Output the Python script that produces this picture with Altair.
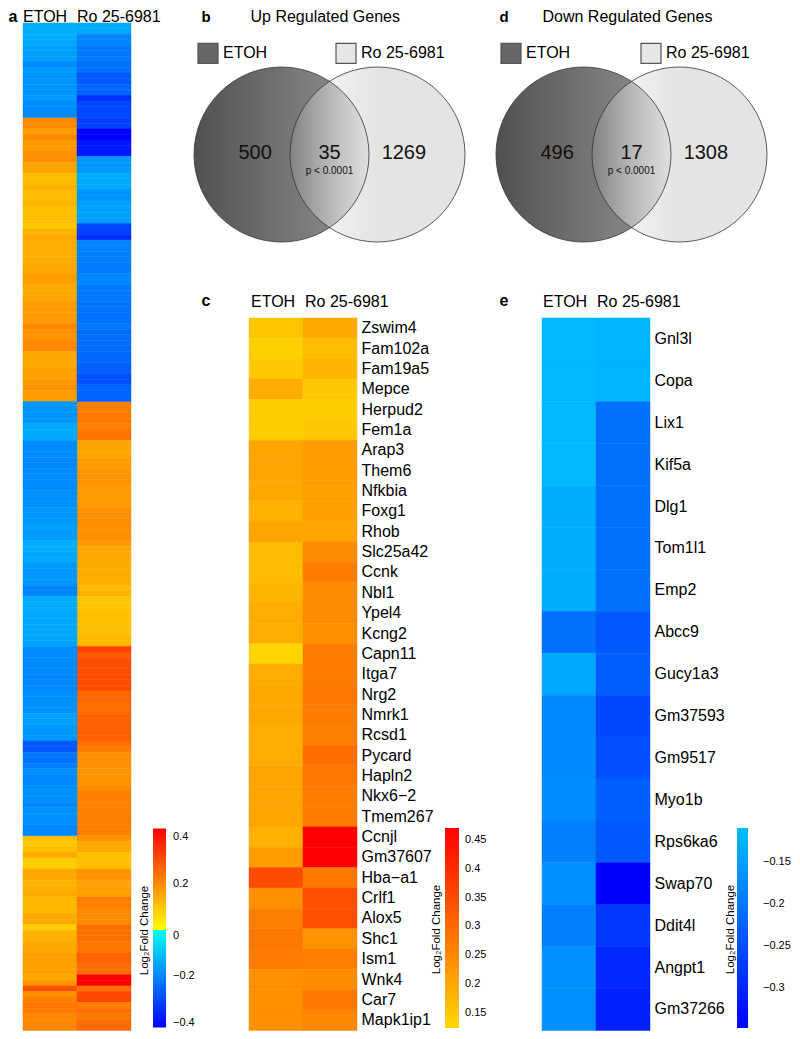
import altair as alt
import pandas as pd

FONT = "Liberation Sans"
CONDITIONS = ["ETOH", "Ro 25-6981"]
LEGEND_TITLE = "Log\u2082Fold Change"

# ---------------- panel a : 181 genes x 2 conditions (log2 fold change) ----------------
a_etoh = [
    -0.133, -0.133, -0.133, -0.143, -0.156, -0.156, -0.156, -0.196, -0.163, -0.176,
    -0.176, -0.176, -0.176, -0.163, -0.189, -0.189, -0.189,
    0.204, 0.204, 0.163, 0.204, 0.173, 0.173, 0.191, 0.191, 0.155, 0.155,
    0.115, 0.115, 0.136, 0.115, 0.115, 0.129, 0.108, 0.108, 0.108, 0.094,
    0.129, 0.149, 0.143, 0.143, 0.143, 0.143, 0.149, 0.149, 0.170, 0.163,
    0.149, 0.149, 0.149, 0.170, 0.170, 0.170, 0.170, 0.204, 0.184, 0.184,
    0.204, 0.204, 0.149, 0.149, 0.149, 0.163, 0.163, 0.177, 0.191, 0.170,
    0.170,
    -0.170, -0.170, -0.176, -0.170, -0.140, -0.140, -0.140, -0.189, -0.189, -0.189,
    -0.196, -0.196, -0.189, -0.189, -0.189, -0.189, -0.183, -0.183, -0.183, -0.170,
    -0.170, -0.170, -0.156, -0.163, -0.163, -0.130, -0.130, -0.143, -0.143, -0.170,
    -0.170, -0.170, -0.170, -0.203, -0.203, -0.137, -0.137, -0.137, -0.143, -0.143,
    -0.143, -0.143, -0.150, -0.150, -0.189, -0.189, -0.189, -0.189, -0.196, -0.196,
    -0.196, -0.196, -0.183, -0.183, -0.183, -0.183, -0.156, -0.156, -0.170, -0.170,
    -0.170, -0.275, -0.275, -0.222, -0.236, -0.209, -0.183, -0.196, -0.196, -0.183,
    -0.183, -0.183, -0.203, -0.183, -0.183, -0.183, -0.196, -0.196,
    0.108, 0.094, 0.108, 0.149, 0.088, 0.088, 0.149, 0.149, 0.136, 0.136,
    0.149, 0.122, 0.122, 0.122, 0.149, 0.149, 0.081, 0.136, 0.136, 0.149,
    0.149, 0.163, 0.163, 0.163, 0.163, 0.149, 0.184, 0.301, 0.191, 0.218,
    0.232, 0.232, 0.204, 0.204, 0.204,
]
a_ro = [
    -0.140, -0.140, -0.203, -0.203, -0.222, -0.222, -0.222, -0.236, -0.236, -0.275,
    -0.275, -0.249, -0.249, -0.341, -0.301, -0.301, -0.301,
    -0.315, -0.315, -0.420, -0.420, -0.380, -0.380, -0.380, -0.170, -0.170, -0.170,
    -0.140, -0.140, -0.140, -0.176, -0.176, -0.156, -0.156, -0.156, -0.156, -0.301,
    -0.315, -0.341, -0.203, -0.203, -0.209, -0.209, -0.216, -0.216, -0.196, -0.196,
    -0.222, -0.222, -0.222, -0.229, -0.229, -0.236, -0.236, -0.222, -0.242, -0.242,
    -0.242, -0.242, -0.249, -0.249, -0.262, -0.262, -0.288, -0.288, -0.255, -0.255,
    -0.255,
    0.218, 0.218, 0.232, 0.232, 0.218, 0.239, 0.239, 0.155, 0.155, 0.155,
    0.170, 0.170, 0.184, 0.184, 0.184, 0.170, 0.170, 0.170, 0.170, 0.191,
    0.191, 0.191, 0.191, 0.191, 0.191, 0.177, 0.149, 0.149, 0.149, 0.143,
    0.143, 0.143, 0.143, 0.115, 0.136, 0.101, 0.101, 0.101, 0.108, 0.108,
    0.108, 0.108, 0.122, 0.122, 0.328, 0.287, 0.301, 0.301, 0.307, 0.307,
    0.307, 0.307, 0.259, 0.259, 0.252, 0.252, 0.273, 0.273, 0.273, 0.273,
    0.273, 0.246, 0.225, 0.191, 0.191, 0.191, 0.184, 0.184, 0.184, 0.198,
    0.218, 0.218, 0.218, 0.218, 0.218, 0.218, 0.218, 0.218,
    0.184, 0.149, 0.149, 0.108, 0.108, 0.108, 0.184, 0.184, 0.163, 0.163,
    0.163, 0.218, 0.218, 0.204, 0.198, 0.198, 0.246, 0.246, 0.246, 0.232,
    0.232, 0.266, 0.266, 0.252, 0.252, 0.438, 0.438, 0.246, 0.314, 0.314,
    0.218, 0.246, 0.232, 0.252, 0.252,
]
a_pos_ticks = [0.2, 0.4]
a_neg_ticks = [-0.4, -0.2, 0]

# ---------------- panels b / d : Venn counts ----------------
venn_sets = ["ETOH", "Ro 25-6981"]
up_counts = [500, 35, 1269]
down_counts = [496, 17, 1308]
p_text = "p < 0.0001"

# ---------------- panel c : 35 up-regulated genes ----------------
c_genes = ["Zswim4", "Fam102a", "Fam19a5", "Mepce", "Herpud2", "Fem1a", "Arap3", "Them6",
           "Nfkbia", "Foxg1", "Rhob", "Slc25a42", "Ccnk", "Nbl1", "Ypel4", "Kcng2", "Capn11",
           "Itga7", "Nrg2", "Nmrk1", "Rcsd1", "Pycard", "Hapln2", "Nkx6\u22122", "Tmem267",
           "Ccnjl", "Gm37607", "Hba\u2212a1", "Crlf1", "Alox5", "Shc1", "Ism1", "Wnk4", "Car7",
           "Mapk1ip1"]
c_etoh = [0.154, 0.134, 0.147, 0.193, 0.141, 0.141, 0.206, 0.206, 0.199, 0.186, 0.206,
          0.167, 0.167, 0.180, 0.193, 0.193, 0.128, 0.193, 0.199, 0.199, 0.193, 0.193,
          0.206, 0.206, 0.206, 0.186, 0.219, 0.349, 0.238, 0.264, 0.277, 0.271, 0.238,
          0.238, 0.238]
c_ro = [0.199, 0.167, 0.180, 0.147, 0.141, 0.147, 0.219, 0.219, 0.212, 0.212, 0.206,
        0.245, 0.271, 0.245, 0.245, 0.238, 0.271, 0.271, 0.277, 0.271, 0.264, 0.297,
        0.277, 0.271, 0.271, 0.472, 0.472, 0.277, 0.342, 0.342, 0.232, 0.264, 0.245,
        0.277, 0.251]
c_ticks = [0.15, 0.2, 0.25, 0.3, 0.35, 0.4, 0.45]

# ---------------- panel e : 17 down-regulated genes ----------------
e_genes = ["Gnl3l", "Copa", "Lix1", "Kif5a", "Dlg1", "Tom1l1", "Emp2", "Abcc9", "Gucy1a3",
           "Gm37593", "Gm9517", "Myo1b", "Rps6ka6", "Swap70", "Ddit4l", "Angpt1", "Gm37266"]
e_etoh = [-0.119, -0.119, -0.119, -0.119, -0.134, -0.134, -0.134, -0.208, -0.139, -0.179,
          -0.179, -0.174, -0.188, -0.169, -0.188, -0.169, -0.169]
e_ro = [-0.124, -0.124, -0.208, -0.208, -0.208, -0.208, -0.208, -0.238, -0.228, -0.258,
        -0.248, -0.228, -0.238, -0.348, -0.278, -0.298, -0.308]
e_ticks = [-0.3, -0.25, -0.2, -0.15]

# ---------------- colour scales ----------------
A_POS = ([0.0, 0.438], ["#ffff00", "#ff0000"])
A_NEG = ([-0.42, 0.0], ["#0000ff", "#00ffff"])
C_SC = ([0.123, 0.4715], ["#ffd700", "#ff0000"])
E_SC = ([-0.348, -0.11], ["#0000ff", "#00bfff"])


def cscale(sc):
    return alt.Scale(domain=sc[0], range=sc[1], interpolate="rgb", clamp=True, nice=False, zero=False)


def sscale(sc):
    # same colours for the thin cell outline that hides anti-aliasing seams
    return alt.Scale(domain=[sc[0][0], sc[0][1] + 1e-7], range=sc[1], interpolate="rgb",
                     clamp=True, nice=False, zero=False)


# ---------------- layout ----------------
ROW_H = 5.566
N_TOP = 53                       # rows of panel a drawn beside panels b / d
A_W, C_W = 108, 108
TOP_H = round(N_TOP * ROW_H, 3)
BOT_H = round((len(a_etoh) - N_TOP) * ROW_H, 3)
COL2_W = 175
TITLE_Y = -7
R_PX = 87.5
VENN_SEP = 48 / R_PX
CIRCLE_SIZE = (2 * R_PX) ** 2
VENN_CY = 131.5                  # circle centre below top of panel


def long_df(names, etoh, ro, key):
    vals = list(etoh) + list(ro)
    return pd.DataFrame({key: list(names) * 2,
                         "condition": [CONDITIONS[0]] * len(etoh) + [CONDITIONS[1]] * len(ro),
                         "value": vals, "sv": vals})


def grad_legend(lx, ly, length, thick, ticks, label_off):
    return alt.Legend(type="gradient", orient="none", legendX=lx, legendY=ly,
                      direction="vertical", title=None, gradientLength=length,
                      gradientThickness=thick, gradientStrokeWidth=0, labelFontSize=11,
                      labelFont=FONT, labelColor="black", labelOffset=label_off, values=ticks,
                      format=".2~f", labelOverlap=False, labelBaseline="middle")


def x_enc(letter=None, letter_dx=0, letter_dy=0, label_pad=2, label_off=-27, show=True):
    if not show:
        return alt.X("condition:N", sort=CONDITIONS, scale=alt.Scale(paddingInner=0, paddingOuter=0),
                     axis=None)
    return alt.X("condition:N", sort=CONDITIONS, title=letter,
                 scale=alt.Scale(paddingInner=0, paddingOuter=0),
                 axis=alt.Axis(orient="top", labelAngle=0, labelAlign="left",
                               labelBaseline="alphabetic", labelOffset=label_off, domain=False,
                               ticks=False, labelPadding=label_pad, labelFontSize=16,
                               labelFont=FONT, labelColor="black", titleX=letter_dx,
                               titleY=letter_dy, titleAlign="left", titleBaseline="middle",
                               titleAngle=0, titleFontSize=16, titleFontWeight="bold",
                               titleFont=FONT, titleColor="black"))


def legend_title_axis(orient, tx, ty, labels):
    kw = dict(orient=orient, domain=False, ticks=False, titleX=tx, titleY=ty, titleAngle=270,
              titleAlign="center", titleBaseline="middle", titleFontSize=11.5,
              titleFontWeight="normal", titleFont=FONT, titleColor="black")
    if labels:
        kw.update(labelPadding=4, labelFontSize=16, labelFont=FONT, labelColor="black")
    else:
        kw.update(labels=False)
    return alt.Axis(**kw)


def a_part(lo, hi, height, with_header, with_legend):
    rows = list(range(lo, hi))
    df = long_df(rows, a_etoh[lo:hi], a_ro[lo:hi], "row")
    xe = x_enc("a", -15, TITLE_Y, 2, -27, True) if with_header else x_enc(show=False)
    if with_legend:
        ye = alt.Y("row:O", sort=rows, title=LEGEND_TITLE,
                   scale=alt.Scale(paddingInner=0, paddingOuter=0),
                   axis=legend_title_axis("left", 121, 612, False))
        lp = grad_legend(130, 828.4 - 318, 101.6, 13, a_pos_ticks, 7)
        ln = grad_legend(130, 930 - 318, 97.4, 13, a_neg_ticks, 7)
    else:
        ye = alt.Y("row:O", sort=rows, scale=alt.Scale(paddingInner=0, paddingOuter=0), axis=None)
        lp = ln = None
    base = alt.Chart(df)
    pos = base.transform_filter(alt.datum.value >= 0).mark_rect(strokeWidth=0.5).encode(
        x=xe, y=ye, color=alt.Color("value:Q", scale=cscale(A_POS), legend=lp),
        stroke=alt.Stroke("sv:Q", scale=sscale(A_POS), legend=None))
    neg = base.transform_filter(alt.datum.value < 0).mark_rect(strokeWidth=0.5).encode(
        x=xe, y=ye, color=alt.Color("value:Q", scale=cscale(A_NEG), legend=ln),
        stroke=alt.Stroke("sv:Q", scale=sscale(A_NEG), legend=None))
    return alt.layer(pos, neg).resolve_scale(color="independent", stroke="independent").properties(
        width=A_W, height=height)


def gene_heatmap(genes, etoh, ro, sc, ticks, letter, letter_dx, lab_off, lx, thick, label_off,
                 title_x):
    df = long_df(genes, etoh, ro, "gene")
    ye = alt.Y("gene:N", sort=genes, title=LEGEND_TITLE,
               scale=alt.Scale(paddingInner=0, paddingOuter=0),
               axis=legend_title_axis("right", title_x, 611, True))
    return alt.Chart(df).mark_rect(strokeWidth=0.5).encode(
        x=x_enc(letter, letter_dx, -18, 12, lab_off, True), y=ye,
        color=alt.Color("value:Q", scale=cscale(sc),
                        legend=grad_legend(lx, 510, 200, thick, ticks, label_off)),
        stroke=alt.Stroke("sv:Q", scale=sscale(sc), legend=None),
    ).properties(width=C_W, height=BOT_H)


DARK_GRAD = {"gradient": "linear", "x1": 0, "y1": 0, "x2": 1, "y2": 0,
             "stops": [{"offset": 0, "color": "#505050"}, {"offset": 1, "color": "#959595"}]}
LIGHT_GRAD = {"gradient": "linear", "x1": 0, "y1": 0, "x2": 1, "y2": 0,
              "stops": [{"offset": 0, "color": "rgba(228,228,228,0.1)"},
                        {"offset": 0.45, "color": "rgba(228,228,228,0.93)"},
                        {"offset": 0.5, "color": "rgba(228,228,228,1)"},
                        {"offset": 1, "color": "rgba(228,228,228,1)"}]}


def venn(counts, title, letter, mid_px, width, title_dx, letter_dx, leg_dx, leg_pad):
    sets_df = pd.DataFrame({"set": venn_sets, "x": [-VENN_SEP, VENN_SEP], "y": [0.0, 0.0]})
    cnt_df = pd.DataFrame({"x": [-0.85, 0.0, 0.85], "y": [0.02] * 3,
                           "label": [str(c) for c in counts]})
    p_df = pd.DataFrame({"x": [0.0], "y": [-0.19], "label": [p_text]})
    xdom = [-mid_px / R_PX, (width - mid_px) / R_PX]
    ydom = [-(TOP_H - VENN_CY) / R_PX, VENN_CY / R_PX]
    xenc = alt.X("x:Q", scale=alt.Scale(domain=xdom, nice=False, zero=False), title=title,
                 axis=alt.Axis(orient="top", labels=False, ticks=False, domain=False, grid=False,
                               titleX=title_dx, titleY=TITLE_Y, titleAlign="left",
                               titleBaseline="middle", titleAngle=0, titleFontSize=16,
                               titleFontWeight="normal", titleFont=FONT, titleColor="black"))
    yenc = alt.Y("y:Q", scale=alt.Scale(domain=ydom, nice=False, zero=False), title=letter,
                 axis=alt.Axis(labels=False, ticks=False, domain=False, grid=False,
                               titleX=letter_dx, titleY=TITLE_Y, titleAlign="left",
                               titleBaseline="middle", titleAngle=0, titleFontSize=15,
                               titleFontWeight="bold", titleFont=FONT, titleColor="black"))
    base = alt.Chart(sets_df)
    dark = base.transform_filter(alt.datum.set == venn_sets[0]).mark_point(
        shape="circle", filled=True, size=CIRCLE_SIZE, opacity=1, fill=DARK_GRAD,
        strokeWidth=0).encode(x=xenc, y=yenc)
    light = base.transform_filter(alt.datum.set == venn_sets[1]).mark_point(
        shape="circle", filled=True, size=CIRCLE_SIZE, opacity=1, fill=LIGHT_GRAD,
        stroke="#333333", strokeWidth=0.8).encode(x=xenc, y=yenc)
    outline = base.transform_filter(alt.datum.set == venn_sets[0]).mark_point(
        shape="circle", filled=False, size=CIRCLE_SIZE, opacity=1, stroke="#333333",
        strokeWidth=0.8).encode(x=xenc, y=yenc)
    leg = base.mark_square(size=400, opacity=0, stroke="#555555", strokeWidth=1).encode(
        x=xenc, y=yenc,
        color=alt.Color("set:N", scale=alt.Scale(domain=venn_sets, range=["#666666", "#e6e6e6"]),
                        legend=alt.Legend(orient="none", legendX=leg_dx, legendY=19,
                                          direction="horizontal", title=None, symbolType="square",
                                          symbolSize=400, symbolOpacity=1,
                                          symbolStrokeColor="#555555", symbolStrokeWidth=1.2,
                                          labelFontSize=16, labelFont=FONT, labelColor="black",
                                          labelOffset=4, columnPadding=leg_pad)))
    nums = alt.Chart(cnt_df).mark_text(fontSize=20, font=FONT, color="#111111").encode(
        x=xenc, y=yenc, text="label:N")
    ptxt = alt.Chart(p_df).mark_text(fontSize=10, font=FONT, color="#111111").encode(
        x=xenc, y=yenc, text="label:N")
    return alt.layer(dark, light, outline, leg, nums, ptxt).properties(width=width, height=TOP_H)


A_top = a_part(0, N_TOP, TOP_H, True, False)
A_bot = a_part(N_TOP, len(a_etoh), BOT_H, False, True)
B = venn(up_counts, "Up Regulated Genes", "b", 80.5, COL2_W, 1, -48, -52, 65)
D = venn(down_counts, "Down Regulated Genes", "d", 89.5, COL2_W, 0, -43, -42, 67)
C = gene_heatmap(c_genes, c_etoh, c_ro, C_SC, c_ticks, "c", -48, -25, 196, 14, 6, 79)
E = gene_heatmap(e_genes, e_etoh, e_ro, E_SC, e_ticks, "e", -43, -26, 195, 11, 15, 80)

chart = alt.concat(A_top, B, D, A_bot, C, E, columns=3, spacing={"row": 0, "column": 118},
                   bounds="flush", align="each").resolve_scale(
    color="independent", stroke="independent", x="independent", y="independent")
chart = chart.properties(padding=0, background="white").configure_view(strokeWidth=0)

chart.save("out.html", embed_options={"renderer": "svg", "actions": False})
